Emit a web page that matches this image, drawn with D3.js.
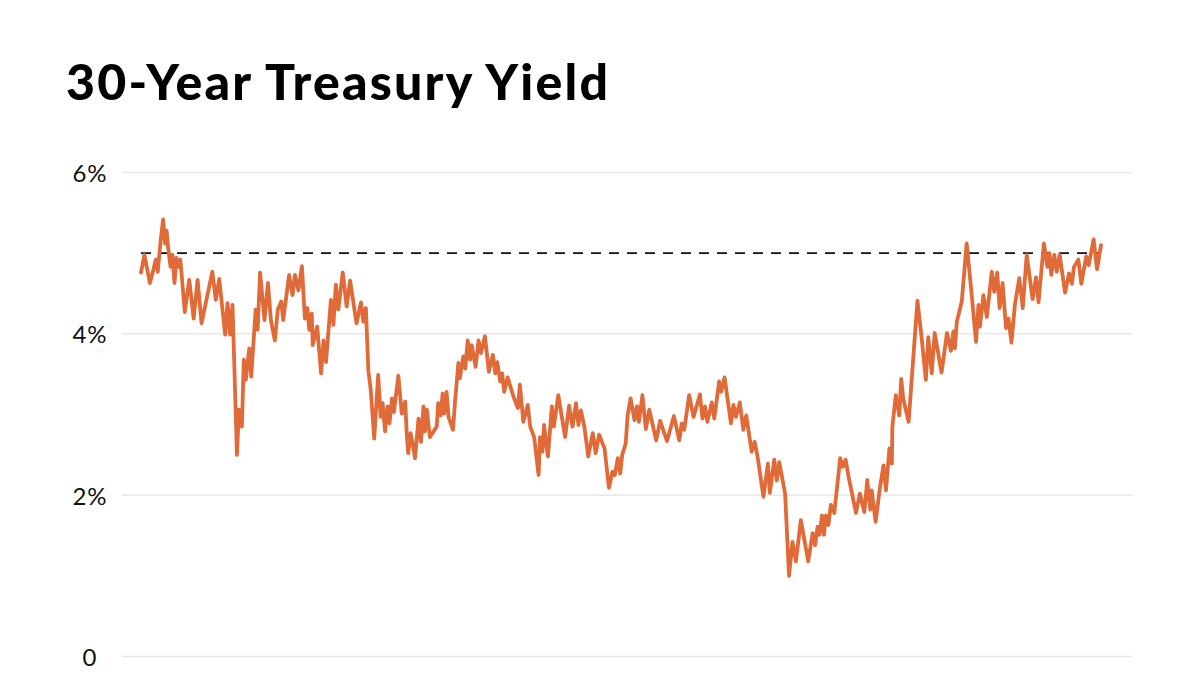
<!DOCTYPE html>
<meta charset="utf-8">
<style>
body {
  margin: 0;
  background: #fff;
  font-family: Lato, "Open Sans", sans-serif;
}
.grid line {
  stroke: #e8e8e8;
  stroke-width: 1.5;
}
.tick-label {
  font-size: 24px;
  letter-spacing: 1px;
  fill: #111;
}
.title {
  font-size: 50px;
  font-weight: 900;
  letter-spacing: 2.2px;
  fill: #000;
}
</style>
<body>
<svg width="1200" height="675"></svg>
<script src="https://d3js.org/d3.v7.min.js"></script>
<script>
// decimal year of each reading
var years = [
  2007.00, 2007.07, 2007.18, 2007.25, 2007.30, 2007.34, 2007.40, 2007.45, 2007.49, 2007.52,
  2007.55, 2007.60, 2007.64, 2007.68, 2007.72, 2007.76, 2007.80, 2007.89, 2007.98, 2008.07,
  2008.15, 2008.23, 2008.45, 2008.52, 2008.59, 2008.71, 2008.76, 2008.81, 2008.86, 2008.95,
  2008.99, 2009.05, 2009.09, 2009.13, 2009.20, 2009.24, 2009.33, 2009.37, 2009.42, 2009.51,
  2009.58, 2009.64, 2009.72, 2009.78, 2009.85, 2009.89, 2010.01, 2010.08, 2010.13, 2010.20,
  2010.27, 2010.33, 2010.38, 2010.42, 2010.47, 2010.49, 2010.58, 2010.66, 2010.71, 2010.76,
  2010.86, 2010.91, 2010.96, 2011.01, 2011.10, 2011.18, 2011.25, 2011.38, 2011.47, 2011.52,
  2011.57, 2011.62, 2011.67, 2011.74, 2011.82, 2011.87, 2011.91, 2011.96, 2012.01, 2012.05,
  2012.10, 2012.14, 2012.23, 2012.30, 2012.37, 2012.40, 2012.43, 2012.48, 2012.52, 2012.57,
  2012.64, 2012.69, 2012.74, 2012.77, 2012.81, 2012.87, 2013.01, 2013.04, 2013.09, 2013.13,
  2013.16, 2013.21, 2013.25, 2013.34, 2013.38, 2013.45, 2013.48, 2013.55, 2013.59, 2013.64,
  2013.69, 2013.72, 2013.80, 2013.86, 2013.91, 2013.99, 2014.07, 2014.15, 2014.20, 2014.24,
  2014.30, 2014.34, 2014.38, 2014.45, 2014.57, 2014.66, 2014.70, 2014.77, 2014.86, 2014.91,
  2014.99, 2015.08, 2015.11, 2015.16, 2015.19, 2015.27, 2015.35, 2015.39, 2015.48, 2015.62,
  2015.70, 2015.77, 2015.84, 2015.89, 2015.94, 2016.01, 2016.09, 2016.18, 2016.24, 2016.31,
  2016.42, 2016.51, 2016.58, 2016.63, 2016.69, 2016.74, 2016.78, 2016.85, 2016.89, 2016.95,
  2017.03, 2017.08, 2017.12, 2017.19, 2017.26, 2017.33, 2017.47, 2017.55, 2017.69, 2017.83,
  2017.94, 2017.99, 2018.04, 2018.14, 2018.23, 2018.36, 2018.41, 2018.46, 2018.51, 2018.60,
  2018.65, 2018.75, 2018.79, 2018.86, 2018.99, 2019.04, 2019.09, 2019.17, 2019.24, 2019.30,
  2019.41, 2019.47, 2019.53, 2019.65, 2019.74, 2019.78, 2019.87, 2019.92, 2019.97, 2020.09,
  2020.17, 2020.24, 2020.31, 2020.41, 2020.56, 2020.65, 2020.70, 2020.75, 2020.79, 2020.84,
  2020.88, 2020.92, 2020.97, 2021.02, 2021.09, 2021.21, 2021.26, 2021.32, 2021.38, 2021.53,
  2021.61, 2021.70, 2021.76, 2021.82, 2021.85, 2021.93, 2022.01, 2022.09, 2022.14, 2022.21,
  2022.26, 2022.27, 2022.34, 2022.41, 2022.45, 2022.49, 2022.60, 2022.78, 2022.87, 2022.95,
  2023.00, 2023.07, 2023.13, 2023.27, 2023.38, 2023.46, 2023.51, 2023.54, 2023.58, 2023.68,
  2023.78, 2023.88, 2023.97, 2024.02, 2024.05, 2024.12, 2024.19, 2024.29, 2024.34, 2024.40,
  2024.45, 2024.51, 2024.58, 2024.63, 2024.69, 2024.76, 2024.85, 2024.92, 2025.00, 2025.12,
  2025.19, 2025.24, 2025.35, 2025.42, 2025.46, 2025.50, 2025.56, 2025.61, 2025.67, 2025.78,
  2025.86, 2025.92, 2025.96, 2026.05, 2026.11, 2026.21, 2026.26, 2026.36, 2026.43, 2026.51
];

// 30-year yield, percent
var yields = [
  4.76, 4.98, 4.63, 4.79, 4.92, 4.77, 5.16, 5.42, 5.12, 5.28,
  5.08, 4.83, 4.98, 4.63, 4.94, 4.83, 4.92, 4.27, 4.67, 4.19,
  4.67, 4.13, 4.77, 4.42, 4.68, 3.99, 4.38, 3.99, 4.36, 2.50,
  3.06, 2.85, 3.68, 3.43, 3.82, 3.47, 4.30, 4.05, 4.76, 4.17,
  4.63, 4.17, 3.92, 4.30, 4.40, 4.17, 4.73, 4.48, 4.73, 4.54,
  4.84, 4.19, 4.32, 4.05, 4.25, 3.86, 4.09, 3.51, 3.92, 3.65,
  4.42, 4.11, 4.61, 4.30, 4.76, 4.34, 4.66, 4.13, 4.39, 4.15,
  4.32, 3.55, 3.30, 2.70, 3.49, 2.97, 3.14, 2.79, 3.10, 2.89,
  3.20, 3.03, 3.48, 3.01, 3.16, 2.77, 2.52, 2.77, 2.64, 2.46,
  2.95, 2.66, 3.10, 2.79, 3.06, 2.72, 2.85, 3.14, 2.99, 3.26,
  3.01, 3.28, 2.97, 2.81, 3.14, 3.64, 3.45, 3.72, 3.57, 3.92,
  3.68, 3.86, 3.59, 3.92, 3.76, 3.97, 3.53, 3.74, 3.51, 3.65,
  3.41, 3.51, 3.28, 3.46, 3.22, 3.08, 3.37, 2.91, 3.12, 2.85,
  2.72, 2.25, 2.72, 2.54, 2.87, 2.48, 3.10, 2.85, 3.24, 2.72,
  3.11, 2.85, 3.14, 2.87, 3.05, 2.85, 2.48, 2.77, 2.52, 2.75,
  2.58, 2.09, 2.29, 2.25, 2.46, 2.27, 2.50, 2.64, 2.99, 3.20,
  2.93, 3.10, 2.91, 3.24, 2.82, 3.06, 2.68, 2.92, 2.67, 2.98,
  2.68, 2.89, 2.81, 3.24, 2.97, 3.25, 2.95, 3.10, 2.91, 3.15,
  2.95, 3.41, 3.28, 3.46, 2.89, 3.12, 2.97, 3.15, 2.81, 2.99,
  2.54, 2.66, 2.48, 1.98, 2.39, 2.03, 2.44, 2.18, 2.41, 2.02,
  1.00, 1.42, 1.18, 1.69, 1.18, 1.53, 1.38, 1.61, 1.51, 1.75,
  1.51, 1.75, 1.63, 1.88, 1.78, 2.46, 2.35, 2.44, 2.23, 1.78,
  2.02, 1.79, 2.19, 1.82, 2.06, 1.67, 2.06, 2.37, 2.06, 2.58,
  2.39, 2.85, 3.24, 2.99, 3.44, 3.20, 2.91, 4.41, 3.92, 3.43,
  3.96, 3.51, 4.01, 3.52, 4.01, 3.79, 4.03, 3.82, 4.15, 4.40,
  5.12, 4.50, 3.90, 4.36, 4.09, 4.48, 4.21, 4.77, 4.52, 4.76,
  4.32, 4.63, 4.07, 4.19, 3.89, 4.36, 4.69, 4.32, 4.98, 4.43,
  4.70, 4.39, 5.12, 4.83, 5.00, 4.73, 4.98, 4.77, 4.98, 4.51,
  4.75, 4.62, 4.83, 4.92, 4.62, 4.96, 4.85, 5.17, 4.80, 5.10
];

var yTicks = [0, 2, 4, 6];
var yTickLabels = ["0", "2%", "4%", "6%"];
var refLevel = 5;
var chartTitle = "30-Year Treasury Yield";

var svg = d3.select("svg");

var x = d3.scaleLinear()
    .domain(d3.extent(years))
    .range([141, 1101]);

var y = d3.scaleLinear()
    .domain([0, 6])
    .range([656.5, 172.5]);

svg.append("text")
    .attr("class", "title")
    .attr("x", 66)
    .attr("y", 100)
    .text(chartTitle);

// gridlines
svg.append("g")
    .attr("class", "grid")
  .selectAll("line")
  .data(yTicks)
  .enter().append("line")
    .attr("x1", 122)
    .attr("x2", 1132)
    .attr("y1", function(d) { return y(d); })
    .attr("y2", function(d) { return y(d); });

svg.append("g")
  .selectAll("text")
  .data(yTicks)
  .enter().append("text")
    .attr("class", "tick-label")
    .attr("x", 90)
    .attr("y", function(d) { return y(d); })
    .attr("text-anchor", "middle")
    .attr("dominant-baseline", "central")
    .text(function(d, i) { return yTickLabels[i]; });

// 5% reference
svg.append("line")
    .attr("x1", x(years[0]))
    .attr("x2", x(years[years.length - 1]))
    .attr("y1", y(refLevel))
    .attr("y2", y(refLevel))
    .style("stroke", "#111")
    .style("stroke-width", 1.6)
    .style("stroke-dasharray", "10,8");

var line = d3.line()
    .x(function(d, i) { return x(years[i]); })
    .y(function(d) { return y(d); });

svg.append("path")
    .datum(yields)
    .attr("d", line)
    .style("fill", "none")
    .style("stroke", "#e06b38")
    .style("stroke-width", 3.8)
    .style("stroke-linejoin", "round")
    .style("stroke-linecap", "round");
</script>
</body>
